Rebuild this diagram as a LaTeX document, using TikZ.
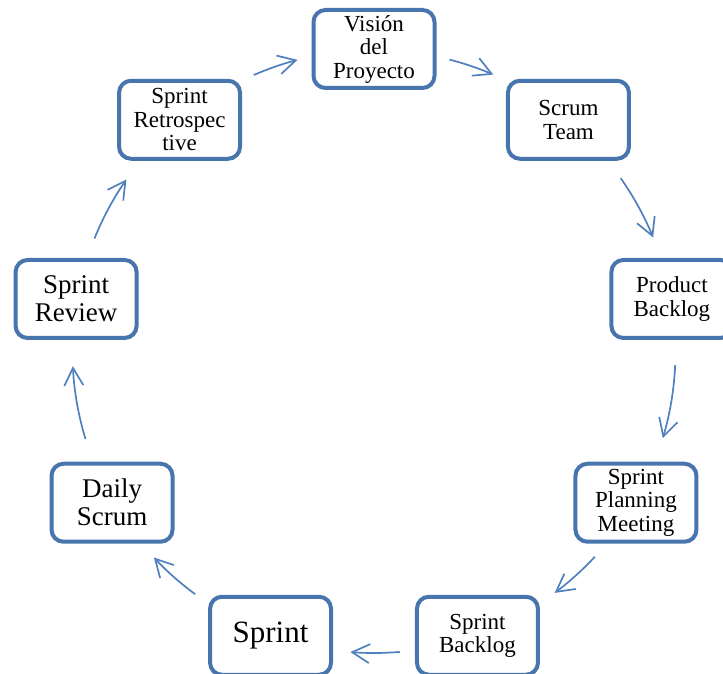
\documentclass[tikz,border=0pt]{standalone}
\usepackage{fontspec}
\setmainfont{Liberation Serif}
\usetikzlibrary{calc,arrows.meta}
\definecolor{boxblue}{RGB}{72,117,173}
\definecolor{arrblue}{RGB}{80,128,190}
\tikzset{
  box/.style={draw=boxblue, line width=4pt, fill=white, rounded corners=12pt,
    minimum width=121pt, minimum height=78pt, inner sep=0pt, align=center,
    font=\fontsize{23}{23.5}\selectfont},
  midtext/.style={font=\fontsize{27}{28}\selectfont},
  bigtext/.style={font=\fontsize{31}{32}\selectfont},
  arr/.style={draw=arrblue, line width=1.7pt,
    -{Straight Barb[length=17.5pt,width=19pt,line width=1.7pt]}}
}
\begin{document}
\begin{tikzpicture}[x=1pt,y=1pt]
\useasboundingbox (0,0) rectangle (723,674);
\coordinate (C) at (374,322.5);
\def\R{302.5}
\def\r{301.5}
\node[box] (n1) at ($(C)+(90:\R)$) {Visión\\del\\Proyecto};
\node[box] (n2) at ($(C)+(50:\R)$) {Scrum\\Team};
\node[box] (n3) at ($(C)+(10:\R)$) {Product\\Backlog};
\node[box] (n4) at ($(C)+(-30:\R)$) {Sprint\\Planning\\Meeting};
\node[box] (n5) at ($(C)+(-70:\R)$) {Sprint\\Backlog};
\node[box,bigtext] (n6) at ($(C)+(-110:\R)$) {Sprint};
\node[box,midtext] (n7) at ($(C)+(-150:\R)$) {Daily\\Scrum};
\node[box,midtext] (n8) at ($(C)+(170:\R)$) {Sprint\\Review};
\node[box] (n9) at ($(C)+(130:\R)$) {Sprint\\Retrospec\\tive};
\foreach \i/\sa/\ea in {1/75.5/66.7, 2/35.1/22.2, 3/-2.6/-16.7, 4/-42.9/-53.2,
    5/-85.1/-94.5, 6/-126.4/-136.9, 7/-163.1/-177.2, 8/158/145.2, 9/113.5/104.7}{
  \coordinate (s\i) at ($(C)+(\sa:\r)$);
  \draw[arr] (s\i) arc[start angle=\sa, end angle=\ea, radius=\r];
}
\end{tikzpicture}
\end{document}
